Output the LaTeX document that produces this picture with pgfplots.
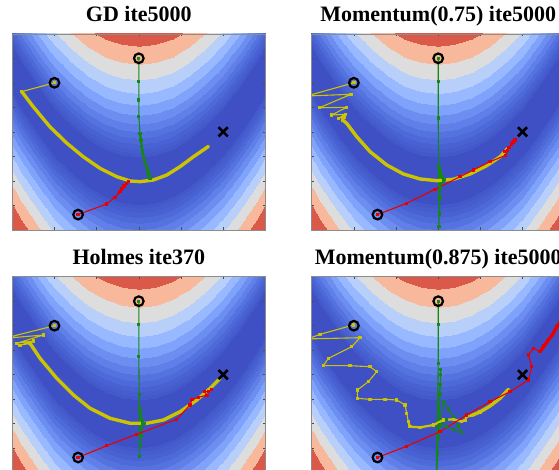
\documentclass[border=0pt]{standalone}
\usepackage{pgfplots}
\pgfplotsset{compat=1.18}
\usepackage{pgfplotstable}
\usepackage{fontspec}
\setmainfont{Liberation Serif}

\definecolor{trajg}{RGB}{20,135,20}
\definecolor{trajy}{RGB}{204,196,0}
\definecolor{trajr}{RGB}{232,0,0}

% background mesh: x, y = x^2 + d, m = |d| (distance from the valley y = x^2)
\pgfplotstableread{
x y m
-1.6 -1.24 3.8
-1.6 2.56 0
-1.6 6.16 3.6
-1.4 -1.84 3.8
-1.4 1.96 0
-1.4 5.56 3.6
-1.2 -2.36 3.8
-1.2 1.44 0
-1.2 5.04 3.6
-1.0 -2.8 3.8
-1.0 1.0 0
-1.0 4.6 3.6
-0.8 -3.16 3.8
-0.8 0.64 0
-0.8 4.24 3.6
-0.6 -3.44 3.8
-0.6 0.36 0
-0.6 3.96 3.6
-0.4 -3.64 3.8
-0.4 0.16 0
-0.4 3.76 3.6
-0.2 -3.76 3.8
-0.2 0.04 0
-0.2 3.64 3.6
0 -3.8 3.8
0 0 0
0 3.6 3.6
0.2 -3.76 3.8
0.2 0.04 0
0.2 3.64 3.6
0.4 -3.64 3.8
0.4 0.16 0
0.4 3.76 3.6
0.6 -3.44 3.8
0.6 0.36 0
0.6 3.96 3.6
0.8 -3.16 3.8
0.8 0.64 0
0.8 4.24 3.6
1.0 -2.8 3.8
1.0 1.0 0
1.0 4.6 3.6
1.2 -2.36 3.8
1.2 1.44 0
1.2 5.04 3.6
1.4 -1.84 3.8
1.4 1.96 0
1.4 5.56 3.6
1.6 -1.24 3.8
1.6 2.56 0
1.6 6.16 3.6
}\bgtable

\pgfplotsset{
  colormap={bands}{
    rgb255(0pt)=(62,80,196)
    rgb255(48.7pt)=(67,89,203)
    rgb255(56.2pt)=(70,93,206)
    rgb255(64.9pt)=(73,98,211)
    rgb255(75pt)=(78,106,216)
    rgb255(86.6pt)=(85,115,223)
    rgb255(100pt)=(96,127,232)
    rgb255(115.5pt)=(108,142,241)
    rgb255(133.4pt)=(127,162,250)
    rgb255(154pt)=(152,185,255)
    rgb255(177.8pt)=(184,208,249)
    rgb255(205.4pt)=(221,221,221)
    rgb255(237.1pt)=(247,184,156)
    rgb255(273.9pt)=(218,89,72)
    rgb255(400pt)=(218,89,72)
  },
  panel/.style={
    scale only axis, width=253pt, height=196pt, anchor=north west,
    xmin=-1.5, xmax=1.5, ymin=-1, ymax=3,
    xtick={-1,-0.5,0,0.5,1}, ytick={-0.5,0,0.5,1,1.5,2,2.5},
    xticklabels={}, yticklabels={},
    tick align=inside, major tick length=2.5pt,
    tick style={black!70, line width=0.4pt},
    axis line style={black!45, line width=0.5pt},
    axis on top,
    point meta min=0, point meta max=4,
    colormap name=bands,
    title style={font=\fontsize{22}{26}\selectfont\bfseries, at={(0.5,1)}, anchor=base, yshift=6pt, inner sep=0pt},
  },
  traj/.style={line width=1.1pt, mark=square*, mark size=1.1pt, mark options={solid}, line join=round},
  gr/.style={traj, color=trajg},
  ye/.style={traj, color=trajy},
  re/.style={traj, color=trajr},
  fat/.style={line width=#1, no marks, line join=round, line cap=round},
}

\newcommand\bgplot{\addplot[surf, shader=interp, colormap access=piecewise constant, mesh/rows=17, mesh/cols=3, point meta=explicit] table[x=x,y=y,meta=m]{\bgtable};}
\newcommand\startmarks{%
  \addplot[only marks, mark=o, mark size=4.8pt, line width=2.2pt, black] coordinates {(0,2.5) (-1,2) (-0.72,-0.69)};
  \addplot[only marks, mark=x, mark size=6.5pt, line width=2.6pt, black] coordinates {(1,1)};
}

\begin{document}
\begin{tikzpicture}[x=1pt,y=1pt]
\useasboundingbox (0,0) rectangle (559,470);
\clip (0,0) rectangle (559,470);

% ---------------- GD ----------------
\begin{axis}[panel, at={(12.3pt,436.2pt)}, title={GD ite5000}]
\bgplot
\addplot[gr] coordinates {(0,2.5) (0,2.02) (0,1.65) (0,1.31) (0.015,0.97) (0.025,0.83) (0.035,0.70) (0.045,0.59) (0.054,0.49) (0.07,0.39) (0.094,0.29) (0.11,0.2) (0.122,0.12) (0.133,0.05)};
\addplot[trajg, fat=2.2pt] coordinates {(0.015,0.97) (0.035,0.70) (0.054,0.49) (0.094,0.29) (0.133,0.05)};
\addplot[ye] coordinates {(-1,2) (-1.388,1.82)};
\addplot[trajy, fat=3.4pt] coordinates {(-1.388,1.82) (-1.251,1.51) (-1.053,1.10) (-0.855,0.77) (-0.658,0.49) (-0.46,0.255) (-0.262,0.084) (-0.104,-0.004) (0.015,-0.018) (0.173,0.016) (0.332,0.118) (0.489,0.288) (0.647,0.49) (0.825,0.70)};
\addplot[re] coordinates {(-0.72,-0.69) (-0.38,-0.473) (-0.282,-0.337) (-0.222,-0.222) (-0.2,-0.16) (-0.175,-0.106) (-0.15,-0.06) (-0.124,-0.018)};
\addplot[trajr, fat=2.4pt] coordinates {(-0.24,-0.26) (-0.175,-0.106) (-0.124,-0.018)};
\startmarks
\end{axis}

% ---------------- Momentum 0.75 ----------------
\begin{axis}[panel, at={(311.7pt,436.2pt)}, title={Momentum(0.75) ite5000}]
\bgplot
\addplot[gr] coordinates {(0,2.5) (0,2.02) (0,1.28) (0.005,0.30) (0.01,-0.94) (0.012,0.25) (0.015,-0.68) (0.02,0.2) (0.02,-0.35) (0.025,0.15) (0.03,-0.13) (0.035,0.1) (0.04,-0.05) (0.05,0.06) (0.06,0.0) (0.07,0.03)};
\addplot[trajg, fat=2.2pt] coordinates {(0.005,0.33) (0.015,-0.12) (0.04,0.08) (0.03,0.0)};
\addplot[ye] coordinates {(-1,2) (-1.56,1.73) (-1.034,1.765) (-1.41,1.49) (-1.085,1.50) (-1.263,1.343) (-1.10,1.356) (-1.184,1.276) (-1.117,1.30) (-1.133,1.24)};
\addplot[trajy, fat=3.4pt] coordinates {(-1.133,1.24) (-1.085,1.173) (-0.966,0.90) (-0.808,0.594) (-0.61,0.322) (-0.413,0.139) (-0.215,0.037) (-0.017,0.002) (0.18,0.03) (0.378,0.139) (0.576,0.31) (0.734,0.49) (0.825,0.66)};
\addplot[re] coordinates {(-0.72,-0.69) (-0.373,-0.459) (-0.037,-0.174) (0.259,0.084) (0.417,0.22) (0.615,0.39) (0.80,0.52) (0.82,0.62) (0.79,0.60) (0.84,0.68) (0.87,0.74) (0.89,0.79) (0.91,0.83)};
\addplot[trajr, fat=3.6pt] coordinates {(0.87,0.76) (0.92,0.85)};
\startmarks
\end{axis}

% ---------------- Holmes ----------------
\begin{axis}[panel, at={(12.3pt,193.3pt)}, title={Holmes ite370}]
\bgplot
\addplot[gr] coordinates {(0,2.5) (0,2.03) (0,1.37) (0.005,0.59) (0.01,-0.67) (0.015,0.30) (0.02,-0.45) (0.02,0.2) (0.025,-0.25) (0.03,0.1) (0.03,-0.1) (0.04,0.05) (0.045,0.0) (0.06,0.0)};
\addplot[trajg, fat=2.2pt] coordinates {(0.01,0.30) (0.02,-0.10) (0.03,0.08) (0.04,0.0)};
\addplot[ye] coordinates {(-1,2) (-1.6,1.74) (-1.13,1.81) (-1.45,1.64) (-1.25,1.69) (-1.41,1.60) (-1.29,1.64)};
\addplot[trajy, fat=3.4pt] coordinates {(-1.29,1.64) (-1.171,1.334) (-0.973,0.926) (-0.775,0.586) (-0.578,0.314) (-0.34,0.11) (-0.103,0.008) (0.095,0.008) (0.293,0.076) (0.49,0.245) (0.689,0.484) (0.847,0.722) (0.966,0.926)};
\addplot[re] coordinates {(-0.72,-0.69) (-0.38,-0.449) (-0.025,-0.216) (0.45,0.09) (0.608,0.382) (0.63,0.49) (0.708,0.54) (0.807,0.58) (0.78,0.66) (0.83,0.65) (0.86,0.70)};
\startmarks
\end{axis}

% ---------------- Momentum 0.875 ----------------
\begin{axis}[panel, at={(311.7pt,193.3pt)}, title={Momentum(0.875) ite5000}]
\bgplot
\addplot[gr] coordinates {(0,2.5) (0,2.03) (0,1.23) (-0.025,-1.4) (0.03,1.10) (-0.025,-1.3) (0.03,1.0) (-0.02,-1.0) (0.02,0.8) (-0.01,-0.6) (0.02,0.6) (0.0,-0.3) (0.06,0.45) (0.12,0.30) (0.18,0.14) (0.24,-0.05) (0.28,-0.18) (0.18,-0.12) (0.1,-0.06) (0.022,-0.027) (0.06,0.05) (0.1,0.08)};
\addplot[ye] coordinates {(-1.007,2.014) (-1.40,1.824) (-1.55,1.73) (-0.927,1.755) (-1.026,1.571) (-1.303,1.333) (-1.362,1.184) (-1.046,1.184) (-0.808,1.163) (-0.729,1.061) (-0.829,0.857) (-0.959,0.688) (-0.959,0.518) (-0.808,0.497) (-0.63,0.497) (-0.492,0.484) (-0.393,0.382) (-0.373,0.212) (-0.354,0.041) (-0.334,-0.061) (-0.215,-0.075) (-0.057,-0.027) (0.061,0.076) (0.18,0.09) (0.279,0.041) (0.318,0.07) (0.338,0.14) (0.397,0.17) (0.496,0.24)};
\addplot[trajy, fat=2.2pt] coordinates {(-0.354,0.041) (-0.334,-0.061) (-0.215,-0.075) (-0.057,-0.027) (0.061,0.076) (0.18,0.09) (0.279,0.041) (0.318,0.07) (0.338,0.14) (0.397,0.17)};
\addplot[trajy, fat=3.4pt] coordinates {(0.40,0.17) (0.496,0.24) (0.615,0.361) (0.734,0.518) (0.832,0.702)};
\addplot[re] coordinates {(-0.72,-0.69) (-0.373,-0.459) (0.022,-0.163) (0.339,0.178) (0.615,0.449) (0.852,0.653) (1.07,0.892) (1.11,1.163) (1.07,1.40) (1.129,1.54) (1.208,1.47) (1.25,1.6) (1.3,1.7) (1.406,1.98) (1.45,2.16) (1.55,2.35)};
\addplot[trajr, fat=3.4pt] coordinates {(1.22,1.50) (1.27,1.62) (1.32,1.74) (1.36,1.83) (1.42,2.02)};
\startmarks
\end{axis}
\end{tikzpicture}
\end{document}
